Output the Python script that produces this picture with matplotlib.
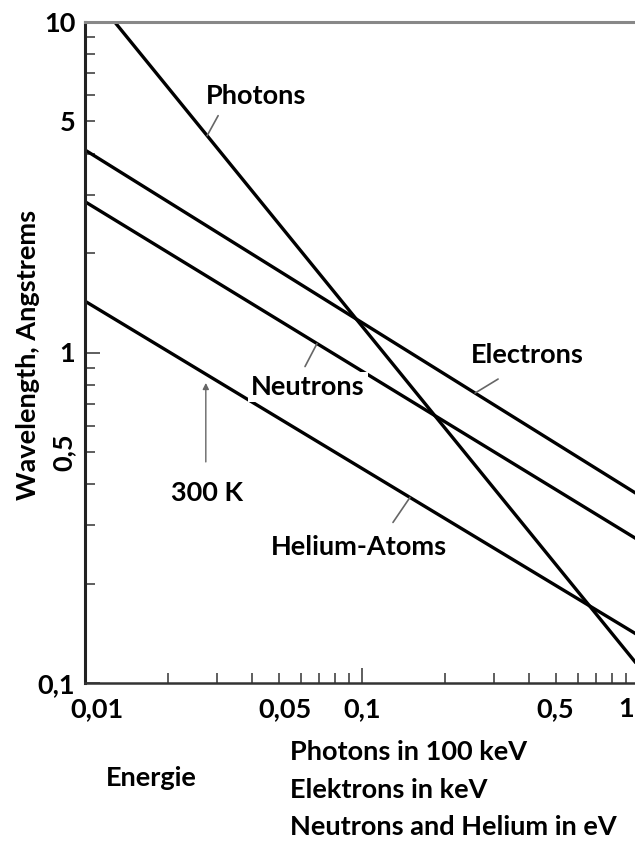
import numpy as np
import matplotlib.pyplot as plt
import matplotlib.transforms as mtransforms
from matplotlib.ticker import FixedLocator, FixedFormatter

plt.rcParams['font.family'] = ['Lato', 'DejaVu Sans']
plt.rcParams['font.weight'] = 'bold'

# energies (x) and wavelengths in Angstrom (y)
energy = [0.01, 1.0]
electrons = [4.1, 0.37]
neutrons = [2.86, 0.27]
helium = [1.43, 0.139]
photon_energy = [0.0128, 1.0]
photons = [10.0, 0.112]

x_major = [0.01, 0.1, 1]
x_major_labels = ['0,01', '0,1', '1']
x_minor = [0.02, 0.03, 0.04, 0.05, 0.06, 0.07, 0.08, 0.09,
           0.2, 0.3, 0.4, 0.5, 0.6, 0.7, 0.8, 0.9]
y_major = [0.1, 1, 10]
y_major_labels = ['0,1', '1', '10']
y_minor = [0.2, 0.3, 0.4, 0.5, 0.6, 0.7, 0.8, 0.9, 2, 3, 4, 5, 6, 7, 8, 9]

W, H = 635, 841
fig = plt.figure(figsize=(W / 100, H / 100), dpi=100)
ax = fig.add_axes([85 / W, 1 - 683 / H, (639 - 85) / W, (683 - 22) / H])


def fpos(px, py):
    # pixel position in the picture -> figure fraction
    return px / W, 1 - py / H


def on_line(xs, ys, x):
    return 10 ** np.interp(np.log10(x), np.log10(xs), np.log10(ys))


for xs, ys in [(energy, electrons), (energy, neutrons), (energy, helium),
               (photon_energy, photons)]:
    ax.plot(xs, ys, color='black', lw=2.4, solid_capstyle='butt')

ax.set_xscale('log')
ax.set_yscale('log')
ax.set_xlim(0.01, 1)
ax.set_ylim(0.1, 10)

ax.xaxis.set_major_locator(FixedLocator(x_major))
ax.xaxis.set_major_formatter(FixedFormatter(x_major_labels))
ax.xaxis.set_minor_locator(FixedLocator(x_minor))
ax.xaxis.set_minor_formatter(FixedFormatter(['0,05' if v == 0.05 else '0,5' if v == 0.5 else '' for v in x_minor]))
ax.yaxis.set_major_locator(FixedLocator(y_major))
ax.yaxis.set_major_formatter(FixedFormatter(y_major_labels))
ax.yaxis.set_minor_locator(FixedLocator(y_minor))
ax.yaxis.set_minor_formatter(FixedFormatter(['0,5' if v == 0.5 else '5' if v == 5 else '' for v in y_minor]))

fs = 19.5
ax.tick_params(which='both', direction='in', color='#333333', width=1.1, labelsize=fs)
ax.tick_params(which='major', length=11)
ax.tick_params(which='minor', length=7)
ax.tick_params(axis='x', which='both', pad=10)
ax.tick_params(axis='y', which='both', pad=7)

for lab in ax.get_yticklabels(minor=True):
    if lab.get_text() == '0,5':
        lab.set_rotation(90)
        lab.set_va('center')

shifts = {'0,01': 12, '0,05': 6, '1': -13}
for lab in ax.get_xticklabels() + ax.get_xticklabels(minor=True):
    dx = shifts.get(lab.get_text(), 0)
    if dx:
        lab.set_transform(lab.get_transform() + mtransforms.ScaledTranslation(dx / 100, 0, fig.dpi_scale_trans))

ax.spines['left'].set_linewidth(2.2)
ax.spines['left'].set_color('#222222')
ax.spines['bottom'].set_linewidth(1.8)
ax.spines['bottom'].set_color('#333333')
ax.spines['top'].set_linewidth(2.2)
ax.spines['top'].set_color('#888888')
ax.spines['right'].set_visible(False)

# leader lines from the curves to their labels
leaders = [(photon_energy, photons, 0.0276, (11, 20)),
           (energy, electrons, 0.256, (23, 14)),
           (energy, neutrons, 0.0688, (-12, -23)),
           (energy, helium, 0.149, (-17, -25))]
for xs, ys, x, off in leaders:
    ax.annotate('', xy=(x, on_line(xs, ys, x)), xytext=off, textcoords='offset pixels',
                arrowprops=dict(arrowstyle='-', color='#666666', lw=1.2, shrinkA=0, shrinkB=0))

ax.annotate('', xy=(0.0273, 0.809), xytext=(0, -79), textcoords='offset pixels',
            arrowprops=dict(arrowstyle='-|>', color='#666666', lw=1.0, mutation_scale=9,
                            shrinkA=0, shrinkB=0))

fig.text(*fpos(256, 96), 'Photons', ha='center', va='center', fontsize=fs)
fig.text(*fpos(527, 355), 'Electrons', ha='center', va='center', fontsize=fs)
fig.text(*fpos(308, 387), 'Neutrons', ha='center', va='center', fontsize=fs,
         bbox=dict(facecolor='white', edgecolor='none', pad=2))
fig.text(*fpos(359, 547), 'Helium-Atoms', ha='center', va='center', fontsize=fs)
fig.text(*fpos(207, 493), '300 K', ha='center', va='center', fontsize=fs)
fig.text(*fpos(28, 355), 'Wavelength, Angstrems', ha='center', va='center',
         rotation=90, fontsize=fs)
fig.text(*fpos(151, 778), 'Energie', ha='center', va='center', fontsize=fs)
fig.text(*fpos(290, 752), 'Photons in 100 keV', ha='left', va='center', fontsize=fs)
fig.text(*fpos(290, 790), 'Elektrons in keV', ha='left', va='center', fontsize=fs)
fig.text(*fpos(290, 827), 'Neutrons and Helium in eV', ha='left', va='center', fontsize=fs)

fig.savefig('out.png', dpi=100)
